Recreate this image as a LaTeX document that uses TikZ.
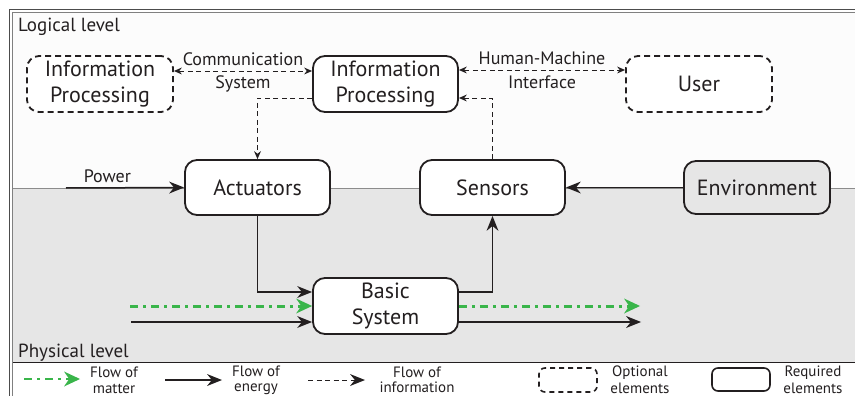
\documentclass[tikz,border=0pt]{standalone}
\usepackage{fontspec}
\setmainfont{PT Sans}
\usetikzlibrary{arrows.meta}
\definecolor{ink}{HTML}{231F20}
\definecolor{mattergreen}{HTML}{39B54A}
\definecolor{physfill}{HTML}{E6E6E6}
\definecolor{logfill}{HTML}{FCFCFC}
\begin{document}
\begin{tikzpicture}[x=1pt,y=-1pt,
 box/.style={draw=ink, line width=1.8pt, rounded corners=12pt, fill=white, align=center,
   font=\fontsize{22}{26}\selectfont, text=ink, inner sep=0pt},
 reqbox/.style={box},
 optbox/.style={box, dash pattern=on 6pt off 4pt},
 bigtip/.tip={Stealth[length=15pt,width=12pt,line width=0pt]},
 smalltip/.tip={Stealth[length=8pt,width=7pt,line width=0pt]},
 greentip/.tip={Stealth[length=16pt,width=15pt,line width=0pt]},
 energy/.style={draw=ink, line width=1.5pt, -bigtip},
 info/.style={draw=ink, line width=0.9pt, dash pattern=on 5pt off 3.5pt},
 infoarr/.style={info, -smalltip},
 infoboth/.style={info, smalltip-smalltip},
 matter/.style={draw=mattergreen, line width=3pt, dash pattern=on 8pt off 5pt on 3pt off 5pt, -greentip},
 lbl/.style={font=\fontsize{18}{21}\selectfont, inner sep=0pt, text=ink},
 lvl/.style={font=\fontsize{19}{22}\selectfont, anchor=base west, inner sep=0pt, text=ink},
 leg/.style={font=\fontsize{15}{18}\selectfont, anchor=base, inner sep=0pt, text=ink}
]
\useasboundingbox (0,0) rectangle (855,396);
\clip (0,0) rectangle (855,396);
% backgrounds
\fill[logfill] (12,12) rectangle (880,188);
\fill[physfill] (12,188) rectangle (880,362);
\fill[white] (12,362) rectangle (880,430);
\draw[black!45, line width=0.8pt] (12,188) -- (880,188);
\draw[ink, line width=0.8pt] (12,362) -- (880,362);
% frame
\draw[black!70, line width=1.4pt] (9.5,9.5) rectangle (890,440);
\draw[black!50, line width=0.7pt] (12,12) rectangle (890,440);

% level labels
\node[lvl] (loglbl) at (18,32) {Logical level};
\node[lvl] (phylbl) at (18,357) {Physical level};

% nodes
\node[optbox, minimum width=146pt, minimum height=56pt] (lip) at (100,84) {Information\\Processing};
\node[reqbox, minimum width=145pt, minimum height=56pt] (cip) at (385.5,84) {Information\\Processing};
\node[optbox, minimum width=146pt, minimum height=56pt] (user) at (699,84) {User};
\node[reqbox, minimum width=145pt, minimum height=55pt] (act) at (257.5,187.5) {Actuators};
\node[reqbox, minimum width=145pt, minimum height=55pt] (sens) at (492.5,187.5) {Sensors};
\node[reqbox, fill=physfill, minimum width=146pt, minimum height=53pt] (env) at (757,187.5) {Environment};
\node[reqbox, minimum width=145pt, minimum height=56pt] (basic) at (385.5,306) {Basic\\System};

% free ends
\coordinate (pw) at (66,188);
\coordinate (min) at (130,306);
\coordinate (ein) at (131,322);
\coordinate (mout) at (640,306);
\coordinate (eout) at (641,322);

% information connectors
\draw[infoboth] ([yshift=13pt]lip.east) -- node[lbl, above=5pt] (comm1) {Communication} node[lbl, below=4pt] (comm2) {System} ([yshift=13pt]cip.west);
\draw[infoboth] ([yshift=14pt]cip.east) -- node[lbl, above=5pt] (hmi1) {Human-Machine} node[lbl, below=5pt] (hmi2) {Interface} ([yshift=14pt]user.west);
\draw[infoarr] ([yshift=-14pt]cip.west) -| (act.north);
\draw[infoarr] (sens.north) |- ([yshift=-14pt]cip.east);

% energy connectors
\draw[energy] (pw) -- node[lbl, above=4pt, pos=0.35] (pwl) {Power} (act.west);
\draw[energy] (env.west) -- (sens.east);
\draw[energy] (act.south) |- ([yshift=14pt]basic.west);
\draw[energy] ([yshift=14pt]basic.east) -| (sens.south);
\draw[energy] (ein) -- ([yshift=-16pt]basic.west);
\draw[energy] ([yshift=-16pt]basic.east) -- (eout);

% matter connectors
\draw[matter] (min) -- (basic.west);
\draw[matter] (basic.east) -- (mout);

% legend
\coordinate (lgma) at (24,379);
\coordinate (lgmb) at (80,379);
\coordinate (lgea) at (165,380);
\coordinate (lgeb) at (222,380);
\coordinate (lgia) at (308,380);
\coordinate (lgib) at (365,380);
\draw[matter, line width=2.5pt] (lgma) -- (lgmb);
\draw[energy] (lgea) -- (lgeb);
\draw[info, -bigtip, line width=1pt] (lgia) -- (lgib);
\node[optbox, rounded corners=6pt, minimum width=58pt, minimum height=24pt, line width=1.6pt, dash pattern=on 5pt off 4pt] (lgopt) at (568,380) {};
\node[reqbox, rounded corners=6pt, minimum width=58pt, minimum height=23pt, line width=1.6pt] (lgreq) at (741,379.5) {};
\node[leg] (lt1a) at (114,377) {Flow of};
\node[leg] (lt1b) at (114,393) {matter};
\node[leg] (lt2a) at (256,376) {Flow of};
\node[leg] (lt2b) at (256,391.5) {energy};
\node[leg] (lt3a) at (417,377) {Flow of};
\node[leg] (lt3b) at (417,392) {information};
\node[leg] (lt4a) at (640,376.5) {Optional};
\node[leg] (lt4b) at (640,393) {elements};
\node[leg] (lt5a) at (813,376.5) {Required};
\node[leg] (lt5b) at (813,393) {elements};
\end{tikzpicture}
\end{document}
